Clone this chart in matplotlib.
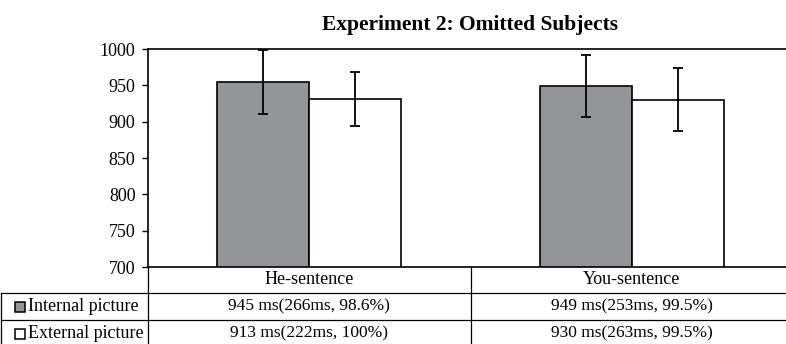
import numpy as np
import matplotlib
matplotlib.use("Agg")
import matplotlib.pyplot as plt

# values (ms) and error bar half-lengths
categories = ["He-sentence", "You-sentence"]
series = ["Internal picture", "External picture"]
internal_vals = [954.5, 949]
external_vals = [931.5, 930.5]
internal_err = [44.5, 42.5]
external_err = [37, 44]
table_rows = [
    ["945 ms(266ms, 98.6%)", "949 ms(253ms, 99.5%)"],
    ["913 ms(222ms, 100%)", "930 ms(263ms, 99.5%)"],
]
yticks = [700, 750, 800, 850, 900, 950, 1000]

colors = ["#939598", "white"]
plt.rcParams['font.family'] = ['Liberation Serif', 'DejaVu Serif']

W, H = 786, 344
fig = plt.figure(figsize=(W / 100, H / 100), dpi=100)
# axes box in pixels (right edge runs past the picture, like the source crop)
left, right, top, bottom = 148, 793, 49, 267
ax = fig.add_axes([left / W, 1 - bottom / H, (right - left) / W, (bottom - top) / H])

x = np.arange(len(categories))
bw = 0.285
ax.bar(x - bw / 2, internal_vals, bw, color=colors[0], edgecolor="black", linewidth=1.2,
       yerr=internal_err, error_kw=dict(ecolor="black", elinewidth=1.3, capsize=3.5, capthick=1.3))
ax.bar(x + bw / 2, external_vals, bw, color=colors[1], edgecolor="black", linewidth=1.2,
       yerr=external_err, error_kw=dict(ecolor="black", elinewidth=1.3, capsize=3.5, capthick=1.3))

ax.set_xlim(-0.5, len(categories) - 0.5)
ax.set_ylim(700, 1000)
ax.set_yticks(yticks)
ax.set_yticklabels([str(v) for v in yticks], fontsize=13)
ax.tick_params(axis="y", direction="out", length=4, width=1, pad=5)
ax.set_xticks([])
for s in ["top", "left", "bottom"]:
    ax.spines[s].set_linewidth(1.2)
ax.spines["right"].set_visible(False)

ax.set_title("Experiment 2: Omitted Subjects", fontsize=15.5, fontweight="bold", pad=14)

# data table under the plot, drawn in axes fraction (y) and data (x) units
axh = bottom - top
axw = right - left
row_edges = [0, -26 / axh, -53 / axh, -80 / axh]
xl = -left / axw + 0.001
ta = ax.transAxes
tx = ax.get_xaxis_transform()
lk = dict(color="black", linewidth=0.9, clip_on=False)
ax.plot([xl, 1], [row_edges[1]] * 2, transform=ta, **lk)
ax.plot([xl, 1], [row_edges[2]] * 2, transform=ta, **lk)
ax.plot([xl, xl], [row_edges[1], row_edges[3]], transform=ta, **lk)
ax.plot([0, 0], [0, row_edges[3]], transform=ta, **lk)
for i in range(1, len(categories)):
    ax.plot([i - 0.5] * 2, [0, row_edges[3]], transform=tx, **lk)

fs = 12.5
for i, c in enumerate(categories):
    ax.text(i, (row_edges[0] + row_edges[1]) / 2, c, transform=tx, ha="center", va="center", fontsize=13)
for r, row in enumerate(table_rows):
    yc = (row_edges[r + 1] + row_edges[r + 2]) / 2
    ax.plot([(19.5 - left) / axw], [yc], marker="s", markersize=6.5, markerfacecolor=colors[r],
            markeredgecolor="black", markeredgewidth=1.1, transform=ta, clip_on=False)
    ax.text((28 - left) / axw, yc, series[r], transform=ta, ha="left", va="center", fontsize=13)
    for i, val in enumerate(row):
        ax.text(i, yc, val, transform=tx, ha="center", va="center", fontsize=fs)

fig.savefig("out.png", dpi=100)
